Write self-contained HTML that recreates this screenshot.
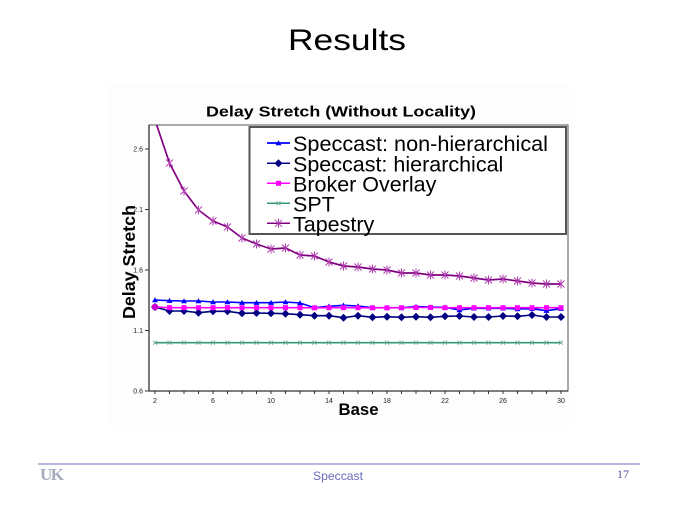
<!DOCTYPE html>
<html><head><meta charset="utf-8"><style>
html,body{margin:0;padding:0;background:#fff;}
svg{display:block;}
</style></head><body>
<svg width="680" height="510" viewBox="0 0 680 510" xmlns="http://www.w3.org/2000/svg">
<defs>
<clipPath id="pc"><rect x="149" y="125" width="419" height="266"/></clipPath>
<marker id="tri" markerUnits="userSpaceOnUse" markerWidth="8" markerHeight="8" refX="4" refY="4"><path d="M4 1.2 L7 6.2 L1 6.2 Z" fill="#0000ff"/></marker>
<marker id="dia" markerUnits="userSpaceOnUse" markerWidth="10" markerHeight="10" refX="5" refY="5"><path d="M5 1 L9 5 L5 9 L1 5 Z" fill="#000080"/></marker>
<marker id="sq" markerUnits="userSpaceOnUse" markerWidth="8" markerHeight="8" refX="4" refY="4"><rect x="1.5" y="1.5" width="5" height="5" fill="#ff00ff"/></marker>
<marker id="xg" markerUnits="userSpaceOnUse" markerWidth="8" markerHeight="8" refX="4" refY="4"><path d="M2 2 L6 6 M6 2 L2 6" stroke="#66aa88" stroke-width="0.8"/></marker>
<marker id="ast" markerUnits="userSpaceOnUse" markerWidth="10" markerHeight="10" refX="5" refY="5"><path d="M1.5 1.5 L8.5 8.5 M8.5 1.5 L1.5 8.5 M5 0.5 L5 9.5" stroke="#b040b0" stroke-width="1"/></marker>
</defs>

<!-- slide title -->
<text x="347" y="50" font-family="Liberation Sans, sans-serif" font-size="30" text-anchor="middle" textLength="118" lengthAdjust="spacingAndGlyphs" fill="#000">Results</text>

<!-- chart image background -->
<rect x="108" y="84" width="462" height="342" fill="#fdfdfd"/>

<!-- chart title -->
<text x="341" y="116.5" font-family="Liberation Sans, sans-serif" font-weight="bold" font-size="15" text-anchor="middle" textLength="270" lengthAdjust="spacingAndGlyphs" fill="#000">Delay Stretch (Without Locality)</text>

<!-- plot frame -->
<rect x="149" y="125" width="419" height="266" fill="#fff" stroke="#555" stroke-width="1"/>
<line x1="149" y1="125" x2="149" y2="391" stroke="#333" stroke-width="1.3"/>
<line x1="149" y1="391" x2="568" y2="391" stroke="#333" stroke-width="1.3"/>

<!-- y ticks -->
<g stroke="#333" stroke-width="1">
<line x1="145" y1="391" x2="149" y2="391"/>
<line x1="145" y1="330.5" x2="149" y2="330.5"/>
<line x1="145" y1="270" x2="149" y2="270"/>
<line x1="145" y1="209.5" x2="149" y2="209.5"/>
<line x1="145" y1="149" x2="149" y2="149"/>
</g>
<g font-family="Liberation Sans, sans-serif" font-size="7" fill="#222" text-anchor="end">
<text x="143" y="393.5">0.6</text>
<text x="143" y="333">1.1</text>
<text x="143" y="272.5">1.6</text>
<text x="143" y="212">2.1</text>
<text x="143" y="151.5">2.6</text>
</g>

<!-- x ticks -->
<g stroke="#333" stroke-width="1">
<line x1="155" y1="391" x2="155" y2="394"/><line x1="169.5" y1="391" x2="169.5" y2="394"/><line x1="184" y1="391" x2="184" y2="394"/><line x1="198.5" y1="391" x2="198.5" y2="394"/><line x1="213" y1="391" x2="213" y2="394"/><line x1="227.5" y1="391" x2="227.5" y2="394"/><line x1="242" y1="391" x2="242" y2="394"/><line x1="256.5" y1="391" x2="256.5" y2="394"/><line x1="271" y1="391" x2="271" y2="394"/><line x1="285.5" y1="391" x2="285.5" y2="394"/><line x1="300" y1="391" x2="300" y2="394"/><line x1="314.5" y1="391" x2="314.5" y2="394"/><line x1="329" y1="391" x2="329" y2="394"/><line x1="343.5" y1="391" x2="343.5" y2="394"/><line x1="358" y1="391" x2="358" y2="394"/><line x1="372.5" y1="391" x2="372.5" y2="394"/><line x1="387" y1="391" x2="387" y2="394"/><line x1="401.5" y1="391" x2="401.5" y2="394"/><line x1="416" y1="391" x2="416" y2="394"/><line x1="430.5" y1="391" x2="430.5" y2="394"/><line x1="445" y1="391" x2="445" y2="394"/><line x1="459.5" y1="391" x2="459.5" y2="394"/><line x1="474" y1="391" x2="474" y2="394"/><line x1="488.5" y1="391" x2="488.5" y2="394"/><line x1="503" y1="391" x2="503" y2="394"/><line x1="517.5" y1="391" x2="517.5" y2="394"/><line x1="532" y1="391" x2="532" y2="394"/><line x1="546.5" y1="391" x2="546.5" y2="394"/><line x1="561" y1="391" x2="561" y2="394"/>
</g>
<g font-family="Liberation Sans, sans-serif" font-size="7" fill="#222" text-anchor="middle">
<text x="155" y="403">2</text>
<text x="213" y="403">6</text>
<text x="271" y="403">10</text>
<text x="329" y="403">14</text>
<text x="387" y="403">18</text>
<text x="445" y="403">22</text>
<text x="503" y="403">26</text>
<text x="561" y="403">30</text>
</g>

<!-- axis labels -->
<text x="358.5" y="415" font-family="Liberation Sans, sans-serif" font-weight="bold" font-size="16.5" text-anchor="middle" textLength="40" lengthAdjust="spacingAndGlyphs" fill="#000">Base</text>
<text transform="translate(135,262) rotate(-90)" x="0" y="0" font-family="Liberation Sans, sans-serif" font-weight="bold" font-size="17.5" text-anchor="middle" textLength="114" lengthAdjust="spacingAndGlyphs" fill="#000">Delay Stretch</text>

<!-- series -->
<g clip-path="url(#pc)" fill="none" stroke-linejoin="round">
<polyline stroke="#0000ff" stroke-width="1.6" marker-start="url(#tri)" marker-mid="url(#tri)" marker-end="url(#tri)"
points="155,300 169.5,300.7 184,301 198.5,301 213,302 227.5,302 242,302.7 256.5,302.7 271,302.7 285.5,302 300,303 314.5,307.7 329,306.3 343.5,305.3 358,306 372.5,307.7 387,307.7 401.5,307.7 416,306.7 430.5,307 445,307.3 459.5,310 474,308.3 488.5,308.3 503,308.3 517.5,309 532,308.7 546.5,310.7 561,308.7"/>
<polyline stroke="#000080" stroke-width="1.6" marker-start="url(#dia)" marker-mid="url(#dia)" marker-end="url(#dia)"
points="155,307 169.5,311 184,311 198.5,312.7 213,311.3 227.5,311.3 242,313.3 256.5,313 271,313.3 285.5,313.7 300,314.7 314.5,315.7 329,315.7 343.5,317.7 358,315.7 372.5,317.3 387,316.7 401.5,317.3 416,316.7 430.5,317.3 445,316.3 459.5,316 474,317 488.5,317 503,316 517.5,316.3 532,315 546.5,317 561,317"/>
<polyline stroke="#ff00ff" stroke-width="1.6" marker-start="url(#sq)" marker-mid="url(#sq)" marker-end="url(#sq)"
points="155,307 169.5,307.7 184,307.7 198.5,307.7 213,307.7 227.5,307.7 242,307.7 256.5,307.7 271,307.7 285.5,307.7 300,307.7 314.5,307.8 329,307.7 343.5,307.7 358,307.7 372.5,307.8 387,307.8 401.5,307.8 416,307.5 430.5,307.5 445,307.7 459.5,307.7 474,307.7 488.5,307.7 503,307.7 517.5,307.7 532,307.7 546.5,307.7 561,307.7"/>
<circle cx="155" cy="307" r="3.3" fill="#cc00cc" stroke="none"/>
<polyline stroke="#339977" stroke-width="1.6" marker-start="url(#xg)" marker-mid="url(#xg)" marker-end="url(#xg)"
points="155,342.7 169.5,342.7 184,342.7 198.5,342.7 213,342.7 227.5,342.7 242,342.7 256.5,342.7 271,342.7 285.5,342.7 300,342.7 314.5,342.7 329,342.7 343.5,342.7 358,342.7 372.5,342.7 387,342.7 401.5,342.7 416,342.7 430.5,342.7 445,342.7 459.5,342.7 474,342.7 488.5,342.7 503,342.7 517.5,342.7 532,342.7 546.5,342.7 561,342.7"/>
<polyline stroke="#800080" stroke-width="1.7" marker-start="url(#ast)" marker-mid="url(#ast)" marker-end="url(#ast)"
points="155,120 169.5,163 184,191 198.5,210 213,221 227.5,227 242,238 256.5,244 271,249 285.5,248 300,255 314.5,256 329,262 343.5,266 358,267 372.5,269 387,270 401.5,273 416,273 430.5,275 445,275 459.5,276 474,278 488.5,280 503,279 517.5,281 532,283 546.5,284 561,284"/>
</g>

<!-- legend -->
<rect x="249.5" y="127" width="316.5" height="107" fill="#fff" stroke="#555" stroke-width="2"/>
<g fill="none">
<line x1="267" y1="143" x2="290" y2="143" stroke="#0000ff" stroke-width="1.5" marker-mid="url(#tri)"/>
<polyline points="267,143 278.5,143 290,143" stroke="#0000ff" stroke-width="1.5" marker-mid="url(#tri)"/>
<polyline points="267,163.3 278.5,163.3 290,163.3" stroke="#000080" stroke-width="1.5" marker-mid="url(#dia)"/>
<polyline points="267,183.3 278.5,183.3 290,183.3" stroke="#ff00ff" stroke-width="1.5" marker-mid="url(#sq)"/>
<polyline points="267,203.3 278.5,203.3 290,203.3" stroke="#339977" stroke-width="1.5" marker-mid="url(#xg)"/>
<polyline points="267,223.3 278.5,223.3 290,223.3" stroke="#800080" stroke-width="1.5" marker-mid="url(#ast)"/>
</g>
<g font-family="Liberation Sans, sans-serif" font-size="21.5" fill="#000">
<text x="293" y="151" textLength="255" lengthAdjust="spacingAndGlyphs">Speccast: non-hierarchical</text>
<text x="293" y="171.3">Speccast: hierarchical</text>
<text x="293" y="191.3">Broker Overlay</text>
<text x="293" y="211.3">SPT</text>
<text x="293" y="231.3">Tapestry</text>
</g>

<!-- footer -->
<line x1="38" y1="464" x2="640" y2="464" stroke="#8c8cd0" stroke-width="1.2"/>
<text x="40" y="480" font-family="Liberation Serif, serif" font-weight="bold" font-size="17" fill="#a4acbc" letter-spacing="-1.5">UK</text>
<text x="338" y="480" font-family="Liberation Sans, sans-serif" font-size="12" fill="#6b6bbf" text-anchor="middle" textLength="50" lengthAdjust="spacingAndGlyphs">Speccast</text>
<text x="617" y="478" font-family="Liberation Serif, serif" font-size="12" fill="#505098">17</text>
</svg>
</body></html>
